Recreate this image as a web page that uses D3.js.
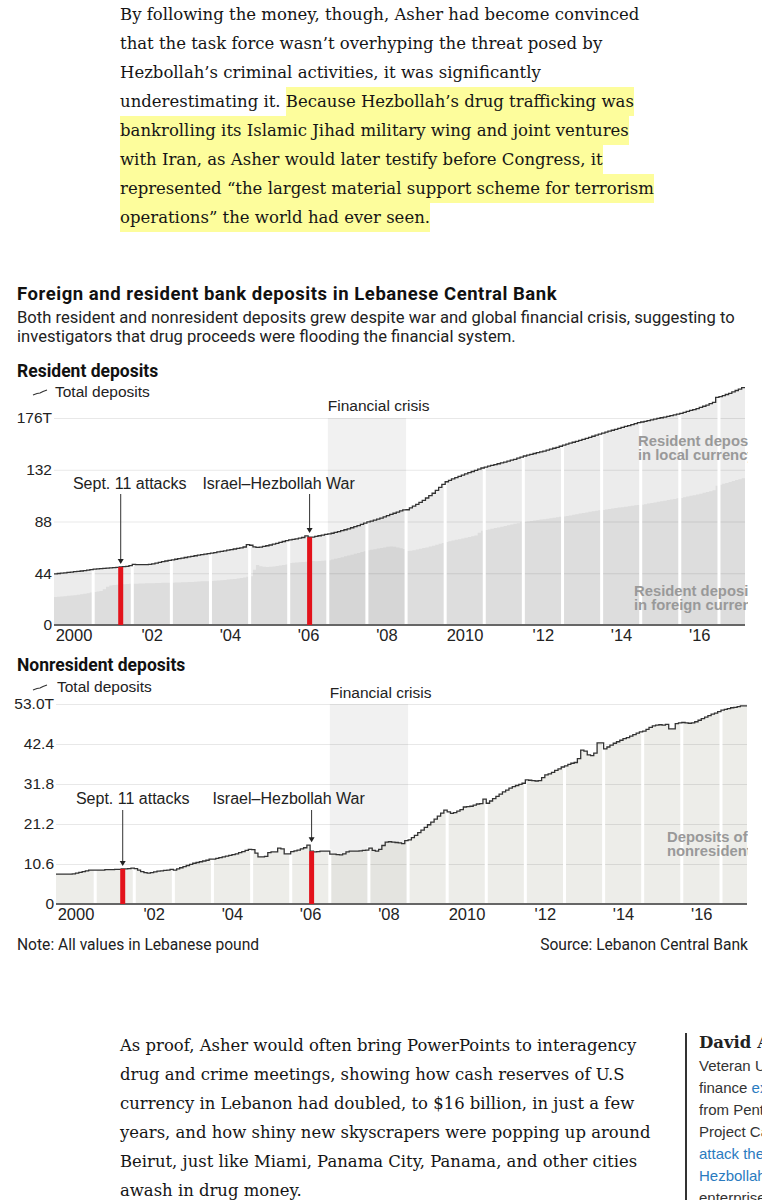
<!DOCTYPE html>
<html>
<head>
<meta charset="utf-8">
<script src="https://cdn.jsdelivr.net/npm/d3@7"></script>
<style>
  html, body { margin: 0; padding: 0; width: 762px; height: 1200px; overflow: hidden; background: #fff; }
  .story {
    position: absolute; left: 120px;
    font-family: "DejaVu Serif", serif; font-size: 16.5px; line-height: 29px;
    color: #151515; white-space: nowrap;
  }
  .story.second { font-size: 16.45px; }
  .hl { background: #fdfd9c; padding: 5px 0; }
  #chart { position: absolute; left: 0; top: 0; }
  .sidebar {
    position: absolute; left: 685px; top: 1033px; height: 170px;
    border-left: 2px solid #333; padding-left: 12px; white-space: nowrap;
  }
  .sidebar .head { font: bold 16.5px "DejaVu Serif", serif; line-height: 20px; color: #222; }
  .sidebar .body { font: 15px "Liberation Sans", Arial, sans-serif; line-height: 22px; color: #333; margin-top: 2px; }
  .sidebar a { color: #2a7bbf; text-decoration: none; }
</style>
</head>
<body>

<div class="story" style="top:0px">By following the money, though, Asher had become convinced<br>that the task force wasn’t overhyping the threat posed by<br>Hezbollah’s criminal activities, it was significantly<br>underestimating it. <span class="hl">Because Hezbollah’s drug trafficking was<br>bankrolling its Islamic Jihad military wing and joint ventures<br>with Iran, as Asher would later testify before Congress, it<br>represented “the largest material support scheme for terrorism<br>operations” the world had ever seen.</span></div>

<svg id="chart" width="762" height="1200"></svg>

<div class="story second" style="top:1031px">As proof, Asher would often bring PowerPoints to interagency<br>drug and crime meetings, showing how cash reserves of U.S<br>currency in Lebanon had doubled, to $16 billion, in just a few<br>years, and how shiny new skyscrapers were popping up around<br>Beirut, just like Miami, Panama City, Panama, and other cities<br>awash in drug money.</div>

<div class="sidebar">
  <div class="head">David Asher</div>
  <div class="body">Veteran U.S. Treasury<br>finance <a>expert</a> on loan<br>from Pentagon to lead<br>Project Cassandra’s<br><a>attack the financing</a><br><a>Hezbollah’s criminal</a><br>enterprise</div>
</div>

<script>
// ---- data (trillions of Lebanese pounds, monthly Jan 2000 - Aug 2017) ----
const residentTotal = [
  43.5, 43.8, 44.1, 44.4, 44.7, 45.0, 45.3, 45.6, 45.9, 46.3, 46.7, 47.1,   // 2000
  47.5, 47.7, 47.9, 48.1, 48.3, 48.5, 48.7, 49.0, 49.3, 49.6, 49.9, 50.5,   // 2001
  51.5, 51.4, 51.3, 51.3, 51.4, 51.6, 52.0, 52.6, 53.2, 53.8, 54.4, 55.0,   // 2002
  55.4, 55.9, 56.4, 56.9, 57.4, 57.9, 58.4, 58.9, 59.4, 59.9, 60.3, 60.7,   // 2003
  61.1, 61.6, 62.1, 62.6, 63.1, 63.6, 64.1, 64.6, 65.1, 65.6, 66.3, 68.3,   // 2004
  67.8, 66.5, 66.0, 66.2, 66.8, 67.4, 68.0, 68.7, 69.4, 70.2, 71.0, 71.8,   // 2005
  72.4, 72.8, 73.3, 73.8, 74.4, 75.7, 74.6, 74.8, 75.3, 75.9, 76.5, 77.0,   // 2006
  77.4, 78.0, 78.7, 79.4, 80.2, 81.0, 81.8, 82.7, 83.6, 84.5, 85.5, 86.6,   // 2007
  87.6, 88.4, 89.2, 90.0, 90.9, 91.9, 93.0, 94.0, 95.0, 96.0, 97.0, 97.8,   // 2008
  98.0, 99.5, 101.0, 102.6, 104.3, 106.0, 108.0, 110.0, 112.0, 114.5, 117.0, 119.5, // 2009
  121.8, 123.0, 124.2, 125.3, 126.4, 127.5, 128.5, 129.5, 130.5, 131.5, 132.5, 133.5, // 2010
  134.2, 135.0, 135.7, 136.4, 137.1, 137.8, 138.5, 139.3, 140.1, 140.9, 141.8, 142.8, // 2011
  143.7, 144.4, 145.1, 145.8, 146.5, 147.2, 147.9, 148.7, 149.5, 150.3, 151.1, 152.0, // 2012
  153.0, 153.8, 154.6, 155.4, 156.2, 157.0, 157.8, 158.7, 159.6, 160.5, 161.4, 162.3, // 2013
  163.2, 164.0, 164.8, 165.6, 166.4, 167.2, 168.0, 168.8, 169.6, 170.4, 171.2, 172.0, // 2014
  172.6, 173.2, 173.8, 174.4, 175.0, 175.6, 176.2, 176.8, 177.4, 178.0, 178.6, 179.3, // 2015
  180.0, 180.8, 181.6, 182.4, 183.2, 184.0, 185.0, 186.0, 187.0, 188.2, 189.3, 193.5, // 2016
  194.2, 195.0, 196.0, 197.0, 198.2, 199.4, 200.6, 201.8                              // 2017
];

const residentForeign = [
  23.8, 24.0, 24.2, 24.5, 24.8, 25.0, 25.3, 25.7, 26.1, 26.6, 27.1, 27.6,   // 2000
  28.0, 28.4, 29.0, 30.5, 32.5, 33.5, 34.0, 34.3, 34.5, 34.7, 34.8, 35.0,   // 2001
  35.0, 35.1, 35.2, 35.3, 35.4, 35.5, 35.6, 35.7, 35.8, 35.9, 36.0, 36.0,   // 2002
  36.0, 36.1, 36.2, 36.3, 36.4, 36.5, 36.6, 36.8, 37.0, 37.1, 37.2, 37.3,   // 2003
  37.5, 37.7, 37.9, 38.1, 38.3, 38.6, 38.9, 39.2, 39.6, 40.0, 40.4, 41.0,   // 2004
  41.5, 47.0, 51.0, 50.0, 49.5, 49.3, 49.5, 49.8, 50.2, 50.6, 51.0, 51.5,   // 2005
  52.7, 53.0, 53.2, 53.4, 53.6, 53.8, 54.0, 54.5, 54.3, 54.4, 54.6, 54.8,   // 2006
  55.0, 55.6, 56.3, 57.0, 57.7, 58.4, 59.1, 59.8, 60.5, 61.2, 62.0, 62.8,   // 2007
  63.5, 64.0, 64.5, 65.0, 65.5, 66.0, 66.5, 66.8, 66.5, 66.0, 65.3, 64.6,   // 2008
  63.0, 63.2, 63.6, 64.2, 64.8, 65.4, 66.0, 66.7, 67.4, 68.2, 69.0, 69.8,   // 2009
  70.6, 71.2, 71.8, 72.4, 73.0, 73.6, 74.2, 74.8, 75.4, 76.0, 78.5, 80.2,   // 2010
  80.8, 81.3, 81.8, 82.4, 83.0, 83.6, 84.2, 84.8, 85.4, 86.0, 86.6, 87.2,   // 2011
  87.6, 88.0, 88.4, 88.8, 89.2, 89.6, 90.0, 90.4, 90.8, 91.2, 91.6, 92.0,   // 2012
  92.2, 92.7, 93.2, 93.7, 94.2, 94.7, 95.2, 95.7, 96.2, 96.7, 97.2, 97.6,   // 2013
  97.8, 98.2, 98.6, 99.0, 99.4, 99.8, 100.2, 100.6, 101.0, 101.4, 101.8, 102.0, // 2014
  102.2, 102.7, 103.2, 103.7, 104.2, 104.7, 105.2, 105.7, 106.2, 106.7, 107.2, 107.7, // 2015
  108.0, 108.6, 109.2, 109.8, 110.4, 111.0, 111.7, 112.4, 113.1, 113.8, 114.6, 118.5, // 2016
  119.2, 120.0, 120.8, 121.6, 122.4, 123.2, 124.0, 124.8                              // 2017
];

const nonresidentTotal = [
  7.9, 7.9, 7.9, 7.9, 7.9, 8.0, 8.2, 8.4, 8.6, 8.8, 9.0, 9.0,               // 2000
  9.0, 9.0, 9.0, 9.1, 9.1, 9.1, 9.2, 9.2, 9.3, 9.3, 9.4, 9.5,               // 2001
  9.4, 9.0, 8.6, 8.3, 8.2, 8.3, 8.5, 8.7, 8.8, 8.9, 9.0, 9.2,               // 2002
  9.0, 9.3, 9.6, 9.9, 10.2, 10.5, 10.8, 11.0, 11.2, 11.4, 11.6, 11.9,       // 2003
  11.9, 12.1, 12.3, 12.5, 12.7, 12.9, 13.1, 13.3, 13.6, 13.9, 14.2, 14.5,   // 2004
  14.4, 13.5, 12.5, 12.5, 12.6, 13.6, 13.8, 13.8, 14.8, 14.6, 13.3, 13.3,   // 2005
  13.9, 14.1, 14.3, 14.6, 14.9, 15.6, 14.0, 13.8, 13.9, 14.0, 14.0, 14.0,   // 2006
  13.2, 13.2, 13.1, 13.0, 13.3, 13.8, 14.0, 14.0, 14.0, 14.1, 14.2, 14.3,   // 2007
  14.8, 14.2, 14.0, 14.5, 15.5, 16.4, 16.5, 16.4, 16.3, 16.2, 16.0, 16.8,   // 2008
  17.0, 17.6, 18.2, 18.9, 19.6, 20.3, 21.0, 21.7, 22.5, 23.3, 24.1, 24.9,   // 2009
  24.4, 24.0, 24.2, 24.6, 25.0, 25.7, 25.8, 25.9, 26.2, 26.5, 26.6, 27.8,   // 2010
  26.7, 27.3, 27.9, 28.5, 29.1, 29.7, 30.2, 30.7, 31.1, 31.4, 31.7, 32.0,   // 2011
  32.9, 32.8, 32.7, 32.6, 32.7, 33.5, 34.2, 34.5, 34.9, 35.4, 35.8, 36.3,   // 2012
  36.6, 37.0, 37.3, 37.5, 38.5, 40.8, 40.5, 39.5, 39.3, 40.0, 42.7, 42.7,   // 2013
  41.1, 41.6, 42.1, 42.6, 43.0, 43.4, 43.8, 44.1, 44.5, 44.9, 45.3, 45.6,   // 2014
  45.8, 46.3, 46.8, 47.2, 47.4, 47.5, 47.4, 47.6, 46.4, 46.4, 47.8, 48.0,   // 2015
  48.1, 48.0, 47.9, 48.0, 48.3, 48.7, 49.1, 49.5, 49.9, 50.3, 50.6, 51.0,   // 2016
  51.4, 51.6, 51.8, 52.0, 52.1, 52.3, 52.5, 52.5                            // 2017
];

const xTickYears = [2000, 2002, 2004, 2006, 2008, 2010, 2012, 2014, 2016];
const xTickLabels = ['2000', "'02", "'04", "'06", "'08", '2010', "'12", "'14", "'16"];
const residentTicks = [0, 44, 88, 132, 176];
const residentTickLabels = ['0', '44', '88', '132', '176T'];
const nonresidentTicks = [0, 10.6, 21.2, 31.8, 42.4, 53.0];
const nonresidentTickLabels = ['0', '10.6', '21.2', '31.8', '42.4', '53.0T'];
const eventLabels = ['Sept. 11 attacks', 'Israel–Hezbollah War'];
const eventMonths = [[2001, 8], [2006, 6]];   // [year, month index]
const crisisSpan = [[2007, 0], [2009, 0]];

// ---- shared setup ----
const svg = d3.select('#chart');
const sansFont = '"Liberation Sans", Arial, sans-serif';
const headFont = 'Roboto, "Liberation Sans", sans-serif';
const months = residentTotal.map((_, i) => new Date(2000, i, 1));
const endDate = new Date(2017, 8, 1);
const monthIndex = ym => (ym[0] - 2000) * 12 + ym[1];

// area labels are cut at the chart's right edge
svg.append('clipPath').attr('id', 'chart-clip')
  .append('rect').attr('x', 0).attr('y', 0).attr('width', 748).attr('height', 1200);

// chart header
svg.append('text').attr('x', 17).attr('y', 300)
  .style('font', `bold 18.5px ${headFont}`).style('letter-spacing', '0.55px').style('fill', '#111')
  .text('Foreign and resident bank deposits in Lebanese Central Bank');
svg.append('text').attr('x', 17).attr('y', 323)
  .style('font', `16.6px ${headFont}`).style('fill', '#222')
  .text('Both resident and nonresident deposits grew despite war and global financial crisis, suggesting to');
svg.append('text').attr('x', 17).attr('y', 342)
  .style('font', `16.6px ${headFont}`).style('fill', '#222')
  .text('investigators that drug proceeds were flooding the financial system.');

const panels = [
  {
    title: 'Resident deposits', total: residentTotal, foreign: residentForeign,
    yMax: 176, ticks: residentTicks, tickLabels: residentTickLabels,
    left: 54, right: 745, top: 418, bottom: 625,
    titleY: 377, legendY: 397, crisisLabelY: 411, eventLabelY: 489, arrowTop: 494,
    labelDx: [9, -31],
    areaLabels: [
      { lines: ['Resident deposits', 'in local currency'], x: 638, y: 446 },
      { lines: ['Resident deposits', 'in foreign currency'], x: 634, y: 596 }
    ]
  },
  {
    title: 'Nonresident deposits', total: nonresidentTotal, foreign: null,
    yMax: 53, ticks: nonresidentTicks, tickLabels: nonresidentTickLabels,
    left: 56, right: 747, top: 704, bottom: 904,
    titleY: 671, legendY: 692, crisisLabelY: 698, eventLabelY: 804, arrowTop: 810,
    labelDx: [10, -23],
    areaLabels: [
      { lines: ['Deposits of', 'nonresidents'], x: 667, y: 842 }
    ]
  }
];

panels.forEach(drawPanel);

function drawPanel(p) {
  const x = d3.scaleTime().domain([months[0], endDate]).range([p.left, p.right]);
  const y = d3.scaleLinear().domain([0, p.yMax]).range([p.bottom, p.top]);
  const g = svg.append('g');

  // monthly points, with a closing point so the last step has width
  const pts = months.map((d, i) => ({ date: d, total: p.total[i], foreign: p.foreign ? p.foreign[i] : 0 }));
  const last = pts[pts.length - 1];
  pts.push({ date: endDate, total: last.total, foreign: last.foreign });

  // panel title and legend
  g.append('text').attr('x', 17).attr('y', p.titleY)
    .style('font', `bold 17.5px ${headFont}`).style('fill', '#111').text(p.title);
  g.append('path')
    .attr('d', `M33,${p.legendY - 2} l4,-1.5 l3,-0.5 l3,-1.5 l4,-1.5`)
    .style('fill', 'none').style('stroke', '#333').style('stroke-width', 1.2);
  g.append('text').attr('x', p.left + 1).attr('y', p.legendY)
    .style('font', `15.5px ${sansFont}`).style('fill', '#222').text('Total deposits');

  // financial crisis band, label starts at the band's left edge
  const c0 = new Date(crisisSpan[0][0], crisisSpan[0][1], 1);
  const c1 = new Date(crisisSpan[1][0], crisisSpan[1][1], 1);
  g.append('rect')
    .attr('x', x(c0)).attr('width', x(c1) - x(c0))
    .attr('y', p.top).attr('height', p.bottom - p.top)
    .style('fill', '#f1f1f1');
  g.append('text').attr('x', x(c0)).attr('y', p.crisisLabelY)
    .style('font', `15.5px ${sansFont}`).style('fill', '#222').text('Financial crisis');

  // areas
  const totalArea = d3.area().curve(d3.curveStepAfter)
    .x(d => x(d.date)).y0(y(0)).y1(d => y(d.total));
  g.append('path').datum(pts).attr('d', totalArea)
    .style('fill', p.foreign ? '#cfcfcf' : '#d2d2c8').style('fill-opacity', 0.4);
  if (p.foreign) {
    const foreignArea = d3.area().curve(d3.curveStepAfter)
      .x(d => x(d.date)).y0(y(0)).y1(d => y(d.foreign));
    g.append('path').datum(pts).attr('d', foreignArea)
      .style('fill', '#b0b0b0').style('fill-opacity', 0.25);
  }

  // y axis with gridlines
  const yAxis = g.append('g').attr('transform', `translate(${p.left},0)`)
    .call(d3.axisLeft(y).tickValues(p.ticks)
      .tickFormat((d, i) => p.tickLabels[i])
      .tickSize(-(p.right - p.left)).tickPadding(2));
  yAxis.select('.domain').remove();
  yAxis.selectAll('line').style('stroke', '#000').style('stroke-opacity', 0.09);
  yAxis.selectAll('text').style('font', `15.5px ${sansFont}`).style('fill', '#222');

  // white gaps between years
  const gapYears = d3.range(2001, 2018);
  const gapTop = yr => {
    const i = (yr - 2000) * 12;
    return y(Math.max(p.total[i - 1], p.total[i])) - 2;
  };
  g.selectAll('.gap').data(gapYears).enter().append('rect')
    .attr('class', 'gap')
    .attr('x', yr => x(new Date(yr, 0, 1)) - 1.5)
    .attr('width', 3)
    .attr('y', gapTop)
    .attr('height', yr => y(0) - gapTop(yr))
    .style('fill', '#fff');

  // total deposits line
  const line = d3.line().curve(d3.curveStepAfter)
    .x(d => x(d.date)).y(d => y(d.total));
  g.append('path').datum(pts).attr('d', line)
    .style('fill', 'none').style('stroke', '#333').style('stroke-width', 1.3);

  // baseline
  g.append('line').attr('x1', p.left).attr('x2', p.right)
    .attr('y1', y(0)).attr('y2', y(0))
    .style('stroke', '#666').style('stroke-width', 2);

  // events: red bar, arrow, label
  eventMonths.forEach((ym, k) => {
    const i = monthIndex(ym);
    const xc = x(new Date(ym[0], ym[1], 15));
    g.append('rect').attr('x', xc - 2.5).attr('width', 5)
      .attr('y', y(p.total[i])).attr('height', y(0) - y(p.total[i]))
      .style('fill', '#e3121b');
    const tip = y(Math.max(p.total[i], p.total[i - 1])) - 3;
    g.append('line').attr('x1', xc).attr('x2', xc)
      .attr('y1', p.arrowTop).attr('y2', tip - 4)
      .style('stroke', '#333').style('stroke-width', 1);
    g.append('path').attr('d', `M${xc - 3},${tip - 5}L${xc + 3},${tip - 5}L${xc},${tip}Z`)
      .style('fill', '#222');
    g.append('text').attr('x', xc + p.labelDx[k]).attr('y', p.eventLabelY)
      .attr('text-anchor', 'middle')
      .style('font', `16px ${sansFont}`).style('fill', '#222').text(eventLabels[k]);
  });

  // x axis labels, centred on each year
  const xAxis = g.append('g').attr('transform', `translate(0,${p.bottom})`)
    .call(d3.axisBottom(x)
      .tickValues(xTickYears.map(yr => new Date(yr, 6, 1)))
      .tickFormat((d, i) => xTickLabels[i])
      .tickSize(0).tickPadding(4));
  xAxis.select('.domain').remove();
  xAxis.selectAll('text').style('font', `16.5px ${sansFont}`).style('fill', '#222');

  // direct labels on the areas
  p.areaLabels.forEach(l => {
    const t = g.append('text').attr('x', l.x).attr('y', l.y)
      .attr('clip-path', 'url(#chart-clip)')
      .style('font', `bold 14.8px ${sansFont}`).style('fill', '#999');
    l.lines.forEach((s, j) => t.append('tspan').attr('x', l.x).attr('dy', j ? 14 : 0).text(s));
  });
}

// footer
svg.append('text').attr('x', 17).attr('y', 950)
  .style('font', `15.6px ${headFont}`).style('fill', '#222')
  .text('Note: All values in Lebanese pound');
svg.append('text').attr('x', 748).attr('y', 950).attr('text-anchor', 'end')
  .style('font', `15.6px ${headFont}`).style('fill', '#222')
  .text('Source: Lebanon Central Bank');
</script>
</body>
</html>
